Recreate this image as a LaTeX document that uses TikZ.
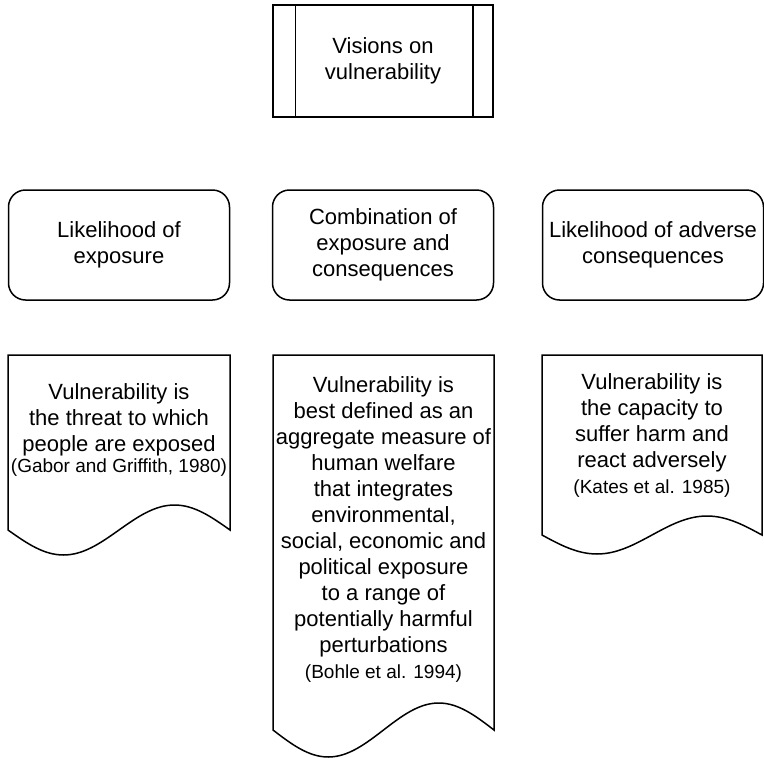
\documentclass[tikz,border=0pt]{standalone}
\usepackage{fontspec}
\setmainfont{Liberation Sans}
\usetikzlibrary{positioning}

\newcommand{\refnote}[1]{{\fontsize{19}{23}\selectfont #1}}

\begin{document}
\begin{tikzpicture}[x=1pt, y=-1pt, line width=1.5pt,
  txt/.style={font=\fontsize{22}{26}\selectfont, align=center, inner sep=0pt},
  vision/.style={txt, draw, rounded corners=17pt, minimum width=221pt, minimum height=110pt}]
  \useasboundingbox (0,0) rectangle (764,758);

  % title
  \node [txt, draw, minimum width=220pt, minimum height=112pt] (title) at (383,61) {Visions on\\vulnerability};
  \draw ([xshift=23pt]title.north west) -- ([xshift=23pt]title.south west);
  \draw ([xshift=-21pt]title.north east) -- ([xshift=-21pt]title.south east);

  % visions
  \node [vision] (expo) at (119,245) {Likelihood of\\exposure};
  \node [vision] (comb) at (383,245) {Combination of\\exposure and\\consequences};
  \node [vision] (adve) at (653,245) {Likelihood of adverse\\consequences};

  % definitions
  \draw (8,355) -- (230,355) -- (230,530) sin (174.5,505) cos (119,530) sin (63.5,555) cos (8,530) -- cycle;
  \draw (273,355) -- (494,355) -- (494,730) sin (438.75,703) cos (383.5,730) sin (328.25,757) cos (273,730) -- cycle;
  \draw (542,355) -- (762,355) -- (762,535) sin (707,516) cos (652,535) sin (597,554) cos (542,535) -- cycle;

  \node [txt, anchor=north] (defexpo) at (119,383) {Vulnerability is\\the threat to which\\people are exposed\\[-5pt]\refnote{(Gabor and Griffith, 1980)}};
  \node [txt, anchor=north] (defcomb) at (383.5,376) {Vulnerability is\\best defined as an\\aggregate measure of\\human welfare\\that integrates\\environmental,\\social, economic and\\political exposure\\to a range of\\potentially harmful\\perturbations\\\refnote{(Bohle et al. 1994)}};
  \node [txt, anchor=north] (defadve) at (652,373) {Vulnerability is\\the capacity to\\suffer harm and\\react adversely\\\refnote{(Kates et al. 1985)}};
\end{tikzpicture}
\end{document}
